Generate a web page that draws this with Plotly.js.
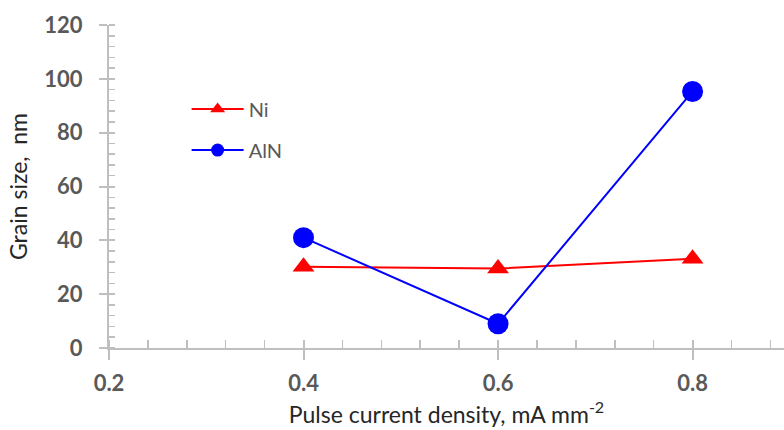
<!DOCTYPE html>
<html><head><meta charset="utf-8">
<script src="https://cdn.plot.ly/plotly-3.0.1.min.js"></script>
<style>html,body{margin:0;padding:0;background:#fff}#c{width:784px;height:430px}</style>
</head><body><div id="c"></div>
<script>
const density = [0.4, 0.6, 0.8];
const niSize = [30.2, 29.5, 33.2];
const alnSize = [41.0, 9.0, 95.3];
const seriesNames = ['Ni', 'AlN'];

const tickFont = {family: 'Lato, "Open Sans", sans-serif', size: 22, color: '#595959', weight: 'bold'};
const axisCol = '#bfbfbf';

const traces = [
  {x: density, y: niSize, name: seriesNames[0], mode: 'lines+markers', showlegend: false,
   line: {color: '#ff0000', width: 2}, marker: {symbol: 'triangle-up', size: 19, color: '#ff0000'}},
  {x: density, y: alnSize, name: seriesNames[1], mode: 'lines+markers', showlegend: false,
   line: {color: '#0000ff', width: 2}, marker: {symbol: 'circle', size: 21, color: '#0000ff'}},
  {x: [null], y: [null], name: seriesNames[0], mode: 'lines+markers', legendgroup: 'a',
   line: {color: '#ff0000', width: 2}, marker: {symbol: 'triangle-up', size: 13, color: '#ff0000'}},
  {x: [null], y: [null], name: seriesNames[1], mode: 'lines+markers', legendgroup: 'b',
   line: {color: '#0000ff', width: 2}, marker: {symbol: 'circle', size: 13, color: '#0000ff'}},
  {x: [null], y: [null], xaxis: 'x2', yaxis: 'y2', showlegend: false, hoverinfo: 'skip'}
];

const xr = [0.2, 0.894];
const yr = [0, 120];

const layout = {
  width: 784, height: 430,
  margin: {l: 109, r: 0, t: 25, b: 82},
  paper_bgcolor: '#fff', plot_bgcolor: '#fff',
  showlegend: true,
  legend: {x: 0.115, y: 0.80, xanchor: 'left', yanchor: 'top', bgcolor: 'rgba(0,0,0,0)',
    itemwidth: 52,
    font: {family: 'Lato, "Open Sans", sans-serif', size: 20, color: '#595959'}, tracegroupgap: 12},
  xaxis: {range: xr, dtick: 0.2, tick0: 0.2, showgrid: false, zeroline: false,
    showline: true, linecolor: axisCol, linewidth: 2,
    ticks: 'outside', ticklen: 10, tickwidth: 2, tickcolor: axisCol,
    minor: {dtick: 0.04, ticks: 'inside', ticklen: 8, tickwidth: 1.5, tickcolor: axisCol},
    tickfont: tickFont, tickformat: '.1f', ticklabelstandoff: 5,
    title: {text: 'Pulse current density, mA mm<sup>-2</sup>', standoff: 11,
      font: {family: 'Lato, "Open Sans", sans-serif', size: 23, color: '#262626'}}},
  yaxis: {range: yr, dtick: 20, showgrid: false, zeroline: false,
    showline: true, linecolor: axisCol, linewidth: 2,
    ticks: 'outside', ticklen: 8, tickwidth: 2, tickcolor: axisCol,
    minor: {dtick: 4, ticks: 'inside', ticklen: 6, tickwidth: 1.5, tickcolor: axisCol},
    tickfont: tickFont, ticklabelstandoff: 12,
    title: {text: 'Grain size,  nm', standoff: 10,
      font: {family: 'Lato, "Open Sans", sans-serif', size: 23, color: '#262626'}}},
  xaxis2: {range: xr, dtick: 0.2, tick0: 0.2, overlaying: 'x', anchor: 'y2', showgrid: false, zeroline: false,
    showline: false, ticks: 'inside', ticklen: 8, tickwidth: 2, tickcolor: axisCol, showticklabels: false},
  yaxis2: {range: yr, dtick: 20, overlaying: 'y', anchor: 'x2', showgrid: false, zeroline: false,
    showline: false, ticks: 'inside', ticklen: 6, tickwidth: 2, tickcolor: axisCol, showticklabels: false}
};

Plotly.newPlot('c', traces, layout, {displayModeBar: false, staticPlot: true});
</script></body></html>
